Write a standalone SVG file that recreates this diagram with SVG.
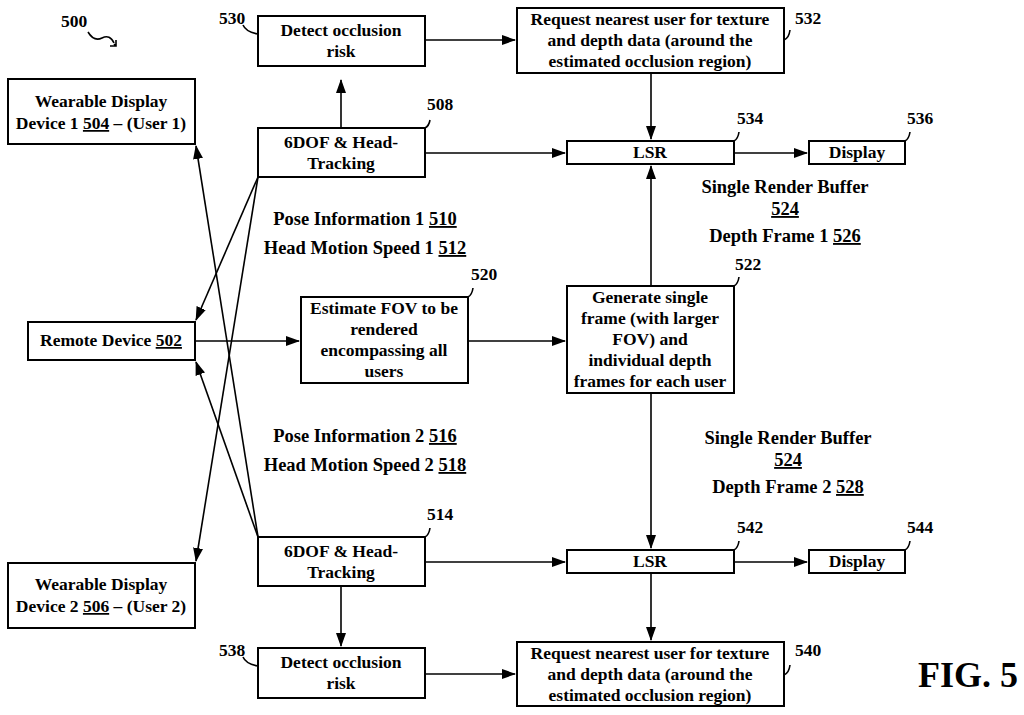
<svg xmlns="http://www.w3.org/2000/svg" width="1024" height="715" viewBox="0 0 1024 715">
<style>
rect{fill:#fff;stroke:#000;stroke-width:2}
text{font-family:"Liberation Serif",serif;font-weight:bold;font-size:17.5px;text-anchor:middle;fill:#000}
.l{stroke:#000;stroke-width:1.6;fill:none}
.a{marker-end:url(#ar)}
.p{font-size:18.5px}
</style>
<defs><marker id="ar" markerWidth="14" markerHeight="10" refX="13" refY="5" orient="auto" markerUnits="userSpaceOnUse"><path d="M0,0L14,5L0,10z" fill="#000"/></marker></defs>
<rect x="0" y="0" width="1024" height="715" style="stroke:none"/>
<g id="n504"><rect x="8" y="79" width="187" height="65"/><text x="101" y="107">Wearable Display</text><text x="101" y="129">Device 1 <tspan text-decoration="underline">504</tspan> – (User 1)</text></g>
<g id="n530"><rect x="258" y="16" width="167" height="50"/><text x="341" y="36">Detect occlusion</text><text x="341" y="57">risk</text></g>
<g id="n508"><rect x="258" y="128" width="167" height="49"/><text x="341" y="148">6DOF &amp; Head-</text><text x="341" y="169">Tracking</text></g>
<g id="n532"><rect x="517" y="8" width="267" height="65"/><text x="650" y="25">Request nearest user for texture</text><text x="650" y="46">and depth data (around the</text><text x="650" y="67">estimated occlusion region)</text></g>
<g id="n534"><rect x="567" y="141" width="167" height="23"/><text x="650" y="158">LSR</text></g>
<g id="n536"><rect x="809" y="141" width="96" height="23"/><text x="857" y="158">Display</text></g>
<g id="n502"><rect x="28" y="322" width="167" height="38"/><text x="111" y="346">Remote Device <tspan text-decoration="underline">502</tspan></text></g>
<g id="n520"><rect x="301" y="297" width="167" height="86"/><text x="384" y="314">Estimate FOV to be</text><text x="384" y="335">rendered</text><text x="384" y="356">encompassing all</text><text x="384" y="377">users</text></g>
<g id="n522"><rect x="567" y="286" width="167" height="107"/><text x="650" y="303">Generate single</text><text x="650" y="324">frame (with larger</text><text x="650" y="345">FOV) and</text><text x="650" y="366">individual depth</text><text x="650" y="387">frames for each user</text></g>
<g id="n514"><rect x="258" y="537" width="167" height="49"/><text x="341" y="557">6DOF &amp; Head-</text><text x="341" y="578">Tracking</text></g>
<g id="n542"><rect x="567" y="550" width="167" height="23"/><text x="650" y="567">LSR</text></g>
<g id="n544"><rect x="809" y="550" width="96" height="23"/><text x="857" y="567">Display</text></g>
<g id="n506"><rect x="8" y="563" width="187" height="65"/><text x="101" y="590">Wearable Display</text><text x="101" y="612">Device 2 <tspan text-decoration="underline">506</tspan> – (User 2)</text></g>
<g id="n538"><rect x="258" y="648" width="167" height="50"/><text x="341" y="668">Detect occlusion</text><text x="341" y="689">risk</text></g>
<g id="n540"><rect x="517" y="642" width="267" height="64"/><text x="650" y="659">Request nearest user for texture</text><text x="650" y="680">and depth data (around the</text><text x="650" y="701">estimated occlusion region)</text></g>
<g id="connectors">
<path class="l a" d="M341,128V80"/>
<path class="l a" d="M425,40H515"/>
<path class="l a" d="M651,73V139"/>
<path class="l a" d="M425,153H565"/>
<path class="l a" d="M734,153H807"/>
<path class="l a" d="M195,341H299"/>
<path class="l a" d="M468,341H565"/>
<path class="l a" d="M651,286V166"/>
<path class="l a" d="M651,393V548"/>
<path class="l a" d="M425,562H565"/>
<path class="l a" d="M734,562H807"/>
<path class="l a" d="M341,586V646"/>
<path class="l a" d="M425,674H515"/>
<path class="l a" d="M651,573V640"/>
<path class="l a" d="M258,177L196,320"/>
<path class="l a" d="M258,177L196,561"/>
<path class="l a" d="M258,537L196,146"/>
<path class="l a" d="M258,537L196,362"/>
<path class="l" d="M88,32q6,10 14,6t12,5"/>
<path class="l" d="M114,44l2,2M110,46l6,0l0,-6" />
<path class="l" d="M243,25q3,7 15,9"/>
<path class="l" d="M425,128q4,-2 5,-8"/>
<path class="l" d="M784,40q5,-2 6,-10"/>
<path class="l" d="M734,141q4,-2 5,-9"/>
<path class="l" d="M905,141q4,-2 5,-9"/>
<path class="l" d="M468,297q4,-2 5,-9"/>
<path class="l" d="M734,286q4,-2 5,-9"/>
<path class="l" d="M425,537q4,-2 5,-9"/>
<path class="l" d="M734,550q4,-2 5,-9"/>
<path class="l" d="M905,550q4,-2 5,-9"/>
<path class="l" d="M243,657q3,7 15,9"/>
<path class="l" d="M784,675q5,-2 6,-10"/>
</g>
<g id="labels">
<text x="74" y="27">500</text>
<text x="232" y="24">530</text>
<text x="440" y="110">508</text>
<text x="808" y="24">532</text>
<text x="750" y="124">534</text>
<text x="920" y="124">536</text>
<text x="484" y="280">520</text>
<text x="748" y="270">522</text>
<text x="440" y="520">514</text>
<text x="750" y="533">542</text>
<text x="920" y="533">544</text>
<text x="232" y="656">538</text>
<text x="808" y="656">540</text>
<text class="p" x="365" y="225">Pose Information 1 <tspan text-decoration="underline">510</tspan></text>
<text class="p" x="365" y="254">Head Motion Speed 1 <tspan text-decoration="underline">512</tspan></text>
<text class="p" x="365" y="442">Pose Information 2 <tspan text-decoration="underline">516</tspan></text>
<text class="p" x="365" y="471">Head Motion Speed 2 <tspan text-decoration="underline">518</tspan></text>
<text class="p" x="785" y="193">Single Render Buffer</text>
<text class="p" x="785" y="215" text-decoration="underline">524</text>
<text class="p" x="785" y="242">Depth Frame 1 <tspan text-decoration="underline">526</tspan></text>
<text class="p" x="788" y="444">Single Render Buffer</text>
<text class="p" x="788" y="466" text-decoration="underline">524</text>
<text class="p" x="788" y="493">Depth Frame 2 <tspan text-decoration="underline">528</tspan></text>
<text x="968" y="687" style="font-size:36px">FIG. 5</text>
</g>
</svg>
